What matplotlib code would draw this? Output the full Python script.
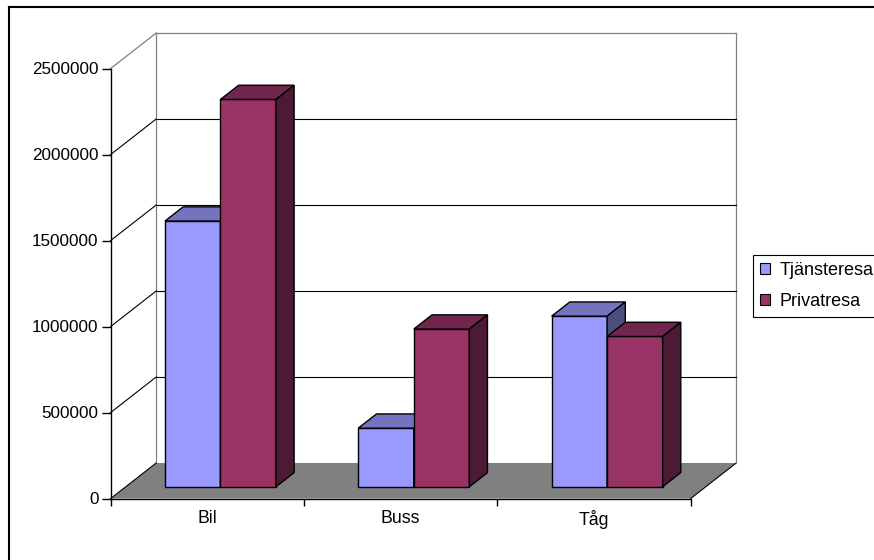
import matplotlib
matplotlib.use("Agg")
import matplotlib.pyplot as plt
from matplotlib.patches import Polygon, Patch
from matplotlib.lines import Line2D

plt.rcParams['font.family'] = ['Liberation Sans', 'DejaVu Sans']

categories = ["Bil", "Buss", "Tåg"]
series = ["Tjänsteresa", "Privatresa"]
tjanst = [1545000, 341000, 992000]
privat = [2252000, 917000, 874000]
yticks = [0, 500000, 1000000, 1500000, 2000000, 2500000]

front = ["#9999FF", "#993366"]
top = ["#7373BF", "#73264D"]
side = ["#4D4D80", "#4D1A33"]

W, H = 874, 560
fig = plt.figure(figsize=(W / 100, H / 100), dpi=100)
ax = fig.add_axes([110.7 / W, (H - 498.5) / H, 580 / W, 430 / H])
n = len(categories)
ymax = yticks[-1]
ax.set_xlim(0, n)
ax.set_ylim(0, ymax)
ax.set_facecolor("none")

# oblique depth: full depth goes 45.5 px right, 35.5 px up
KX = 45.5 / 580 * n
KY = 35.5 / 430 * ymax


def proj(x, v, d):
    return (x + d * KX, v + d * KY)


def poly(pts, **kw):
    ax.add_patch(Polygon([proj(*p) for p in pts], closed=True, clip_on=False, **kw))


def line(p0, p1, **kw):
    a, b = proj(*p0), proj(*p1)
    ax.add_line(Line2D([a[0], b[0]], [a[1], b[1]], clip_on=False, **kw))


# floor
poly([(0, 0, 0), (n, 0, 0), (n, 0, 1), (0, 0, 1)], facecolor="#808080",
     edgecolor="none", zorder=1)
line((n, 0, 0), (n, 0, 1), color="black", lw=0.8, zorder=1.2)

# gridlines on back wall and side wall
for v in yticks[1:-1]:
    line((0, v, 1), (n, v, 1), color="black", lw=0.8, zorder=1.5)
for v in yticks[:-1]:
    line((0, v, 0), (0, v, 1), color="black", lw=0.8, zorder=1.5)
line((0, ymax, 0), (0, ymax, 1), color="#808080", lw=0.9, zorder=1.5)

# wall edges
line((0, 0, 1), (0, ymax, 1), color="#808080", lw=0.9, zorder=1.4)
line((0, ymax, 1), (n, ymax, 1), color="#808080", lw=0.9, zorder=1.4)
line((n, 0, 1), (n, ymax, 1), color="#808080", lw=0.9, zorder=1.4)

# 3d columns
d0, dd = 0.33, 0.40
bw, off = 0.287, 0.203
for i in range(n):
    for j, vals in enumerate([tjanst, privat]):
        l = i + off + j * bw
        r = l + bw
        h = vals[i]
        kw = dict(edgecolor="black", lw=1.0, joinstyle="miter", zorder=3)
        poly([(l, 0, d0), (r, 0, d0), (r, h, d0), (l, h, d0)], facecolor=front[j], **kw)
        poly([(l, h, d0), (r, h, d0), (r, h, d0 + dd), (l, h, d0 + dd)], facecolor=top[j], **kw)
        poly([(r, 0, d0), (r, 0, d0 + dd), (r, h, d0 + dd), (r, h, d0)], facecolor=side[j], **kw)

# axes
for s in ["top", "right"]:
    ax.spines[s].set_visible(False)
for s in ["left", "bottom"]:
    ax.spines[s].set_color("black")
    ax.spines[s].set_linewidth(1.0)
    ax.spines[s].set_zorder(4)

ax.set_yticks(yticks)
ax.set_yticklabels([str(v) for v in yticks])
ax.tick_params(axis="y", length=6.8, width=1.0, pad=2, labelsize=12.3)
ax.set_xticks(range(n + 1))
ax.set_xticklabels([])
ax.tick_params(axis="x", which="major", length=5, width=1.0)
ax.set_xticks([i + 0.5 for i in range(n)], minor=True)
ax.set_xticklabels(categories, minor=True)
ax.tick_params(axis="x", which="minor", length=0, pad=8, labelsize=12.8)

handles = [Patch(facecolor=front[k], edgecolor="black", lw=0.8) for k in range(2)]
leg = fig.legend(handles, series, loc="upper left", bbox_to_anchor=(753 / W, 1 - 255 / H),
                 borderaxespad=0, fancybox=False, edgecolor="black", framealpha=1,
                 fontsize=13, handlelength=0.55, handleheight=0.55, handletextpad=0.5,
                 labelspacing=0.75, borderpad=0.4)
leg.get_frame().set_linewidth(0.8)

# chart border
fig.add_artist(Line2D([9 / W, 9 / W], [0, 1 - 7 / H], transform=fig.transFigure,
                      color="black", lw=1.5))
fig.add_artist(Line2D([9 / W, 1], [1 - 7 / H, 1 - 7 / H], transform=fig.transFigure,
                      color="black", lw=1.5))

fig.savefig("out.png", dpi=100)
